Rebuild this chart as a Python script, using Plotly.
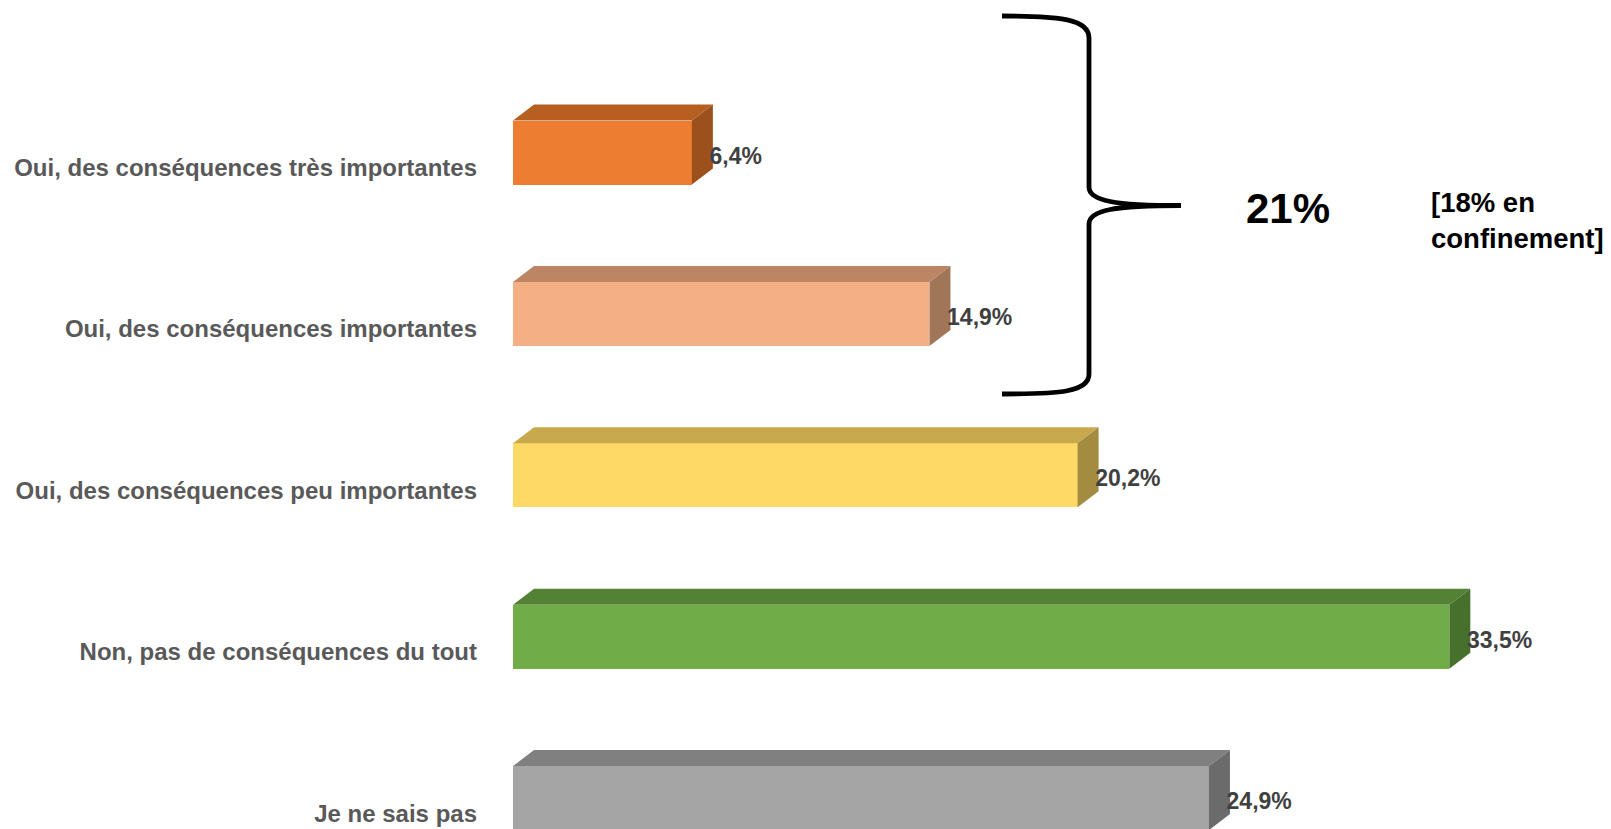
import plotly.graph_objects as go

# ---- data ----
categories = [
    "Oui, des conséquences très importantes",
    "Oui, des conséquences importantes",
    "Oui, des conséquences peu importantes",
    "Non, pas de conséquences du tout",
    "Je ne sais pas",
]
values = [6.4, 14.9, 20.2, 33.5, 24.9]
front_colors = ["#ED7D31", "#F4B084", "#FFD966", "#70AD47", "#A5A5A5"]
top_colors = ["#B65F21", "#BC8564", "#C8A94D", "#548235", "#808080"]
side_colors = ["#9C511C", "#A07558", "#A38B3F", "#47702D", "#6B6B6B"]
brace_total = "21%"
brace_note = "[18% en<br>confinement]"

# ---- geometry (layout only) ----
PAGE_MARGIN = 8        # default body margin of the html page
SCREEN_W, SCREEN_H = 1611, 829
W, H = SCREEN_W - PAGE_MARGIN, SCREEN_H - PAGE_MARGIN
X0_PX = 513            # screen pixel where x = 0
PX_PER_UNIT = 27.95    # pixels per percent
Y0_PX = 152.5          # screen pixel of first category centre
PX_PER_CAT = 161.4     # pixels between categories
BAR_W = 64 / PX_PER_CAT
DX = 21 / PX_PER_UNIT
DY = 16 / PX_PER_CAT


def xd(px):
    return (px - X0_PX) / PX_PER_UNIT


def yd(py):
    return (py - Y0_PX) / PX_PER_CAT


fig = go.Figure()
ys = list(range(len(categories)))

# front faces
fig.add_trace(go.Bar(
    x=values, y=ys, orientation="h", width=BAR_W,
    marker=dict(color=front_colors, line=dict(width=0)),
    hoverinfo="skip", showlegend=False,
))

# top and side faces (3D effect)
for i, v in enumerate(values):
    top = i - BAR_W / 2
    bot = i + BAR_W / 2
    fig.add_trace(go.Scatter(
        x=[0, v, v + DX, DX, 0], y=[top, top, top - DY, top - DY, top],
        fill="toself", fillcolor=top_colors[i], mode="lines",
        line=dict(width=0, color=top_colors[i]), hoverinfo="skip", showlegend=False,
    ))
    fig.add_trace(go.Scatter(
        x=[v, v + DX, v + DX, v, v], y=[top, top - DY, bot - DY, bot, top],
        fill="toself", fillcolor=side_colors[i], mode="lines",
        line=dict(width=0, color=side_colors[i]), hoverinfo="skip", showlegend=False,
    ))

# value labels
labels = [f"{v:.1f}".replace(".", ",") + "%" for v in values]
fig.add_trace(go.Scatter(
    x=[v + 0.63 for v in values], y=[i + 0.033 for i in ys],
    mode="text", text=labels, textposition="middle right",
    textfont=dict(family="Arial, Liberation Sans", size=23, color="#404040", weight="bold"),
    hoverinfo="skip", showlegend=False, cliponaxis=False,
))

# brace spanning the first two categories
bx_l, bx_v, bx_t = xd(1002), xd(1089), xd(1181)
path = (
    f"M {bx_l},{yd(16)} "
    f"C {xd(1060)},{yd(16)} {bx_v},{yd(19)} {bx_v},{yd(38)} "
    f"L {bx_v},{yd(187)} "
    f"C {bx_v},{yd(201)} {xd(1115)},{yd(205.5)} {bx_t},{yd(205.5)} "
    f"C {xd(1115)},{yd(205.5)} {bx_v},{yd(210)} {bx_v},{yd(224)} "
    f"L {bx_v},{yd(374)} "
    f"C {bx_v},{yd(392)} {xd(1060)},{yd(394)} {bx_l},{yd(394)}"
)
fig.add_shape(type="path", path=path, xref="x", yref="y",
              line=dict(color="black", width=4.8))

fig.add_annotation(x=xd(1288), y=yd(208), xref="x", yref="y", text=brace_total,
                   showarrow=False, xanchor="center", yanchor="middle",
                   font=dict(family="Arial, Liberation Sans", size=42, color="black", weight="bold"))
fig.add_annotation(x=xd(1430), y=yd(220), xref="x", yref="y", text=brace_note,
                   showarrow=False, xanchor="left", yanchor="middle", align="left",
                   borderpad=0,
                   font=dict(family="Arial, Liberation Sans", size=27.5, color="black", weight="bold"))

fig.update_layout(
    width=W, height=H,
    margin=dict(l=X0_PX - PAGE_MARGIN, r=0, t=0, b=0),
    paper_bgcolor="white", plot_bgcolor="white",
    xaxis=dict(range=[0, xd(SCREEN_W)], visible=False, fixedrange=True),
    yaxis=dict(
        range=[yd(SCREEN_H), yd(PAGE_MARGIN)],
        tickvals=[i + 15 / PX_PER_CAT for i in ys], ticktext=categories,
        tickfont=dict(family="Arial, Liberation Sans", size=24, color="#595959", weight="bold"),
        showgrid=False, zeroline=False, showline=False, ticks="",
        ticklabelstandoff=35, automargin=False, fixedrange=True,
    ),
    bargap=0,
)

fig.write_html("out.html", config={"displayModeBar": False})
